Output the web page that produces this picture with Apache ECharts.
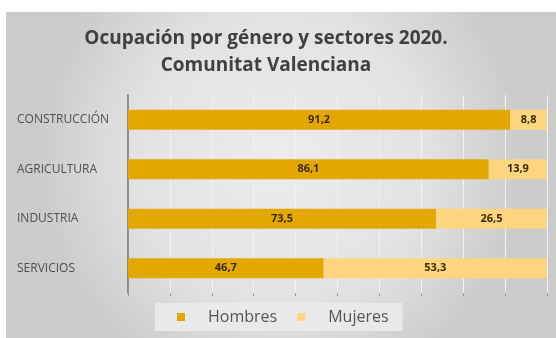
<!DOCTYPE html>
<html>
<head>
<meta charset="utf-8">
<script src="https://cdn.jsdelivr.net/npm/echarts@6/dist/echarts.min.js"></script>
<style>
  html, body { margin: 0; padding: 0; background: #ffffff; }
  #chart { width: 556px; height: 338px; }
</style>
</head>
<body>
<div id="chart"></div>
<script>
// Sector categories (top to bottom)
const sectores = ['CONSTRUCCIÓN', 'AGRICULTURA', 'INDUSTRIA', 'SERVICIOS'];
// Share of employment by gender, %
const hombres = [91.2, 86.1, 73.5, 46.7];
const mujeres = [8.8, 13.9, 26.5, 53.3];
const tituloTexto = 'Ocupación por género y sectores 2020.\nComunitat Valenciana';

const fmt = p => p.value.toFixed(1).replace('.', ',');
const fontFam = '"Open Sans", "Noto Sans", sans-serif';

const chart = echarts.init(document.getElementById('chart'));
chart.setOption({
  backgroundColor: '#ffffff',
  animation: false,
  graphic: [{
    type: 'rect',
    z: -10,
    silent: true,
    shape: { x: 6, y: 12, width: 550, height: 326 },
    style: {
      fill: {
        type: 'radial', x: 0.5, y: 0.45, r: 0.75,
        colorStops: [
          { offset: 0, color: '#ececec' },
          { offset: 0.6, color: '#e2e2e2' },
          { offset: 1, color: '#cbcbcb' }
        ]
      }
    }
  }],
  title: {
    text: tituloTexto,
    left: 261,
    textAlign: 'center',
    top: 20,
    textStyle: {
      fontFamily: fontFam,
      fontSize: 19,
      fontWeight: 'bold',
      color: '#404040',
      lineHeight: 27
    }
  },
  legend: {
    data: ['Hombres', 'Mujeres'],
    left: 155,
    top: 303,
    padding: [6, 14, 6, 22],
    backgroundColor: '#e9e9e9',
    icon: 'rect',
    itemWidth: 8,
    itemHeight: 8,
    itemGap: 20,
    textStyle: {
      fontFamily: fontFam,
      fontSize: 16,
      color: '#555555',
      padding: [0, 0, 0, 18]
    }
  },
  grid: { left: 128, right: 9, top: 95, bottom: 45 },
  xAxis: {
    type: 'value',
    min: 0,
    max: 100,
    interval: 10,
    axisLabel: { show: false },
    axisLine: { show: false },
    axisTick: { show: true, length: 3, lineStyle: { color: '#999999' } },
    splitLine: { show: true, lineStyle: { color: '#f2f2f2', width: 1 } }
  },
  yAxis: {
    type: 'category',
    data: sectores,
    inverse: true,
    axisLine: { show: true, lineStyle: { color: '#6f6f6f', width: 1.5 } },
    axisTick: { show: false },
    axisLabel: {
      align: 'left',
      margin: 111,
      fontFamily: fontFam,
      fontSize: 12,
      color: '#505050'
    }
  },
  series: [
    {
      name: 'Hombres',
      type: 'bar',
      stack: 'total',
      barWidth: 20,
      data: hombres,
      itemStyle: { color: '#e3a800' },
      label: {
        show: true,
        position: 'inside',
        formatter: fmt,
        fontFamily: fontFam,
        fontSize: 11,
        fontWeight: 'bold',
        color: '#3b2a00'
      }
    },
    {
      name: 'Mujeres',
      type: 'bar',
      stack: 'total',
      barWidth: 20,
      data: mujeres,
      itemStyle: { color: '#ffd580' },
      label: {
        show: true,
        position: 'inside',
        formatter: fmt,
        fontFamily: fontFam,
        fontSize: 11,
        fontWeight: 'bold',
        color: '#3b2a00'
      }
    }
  ]
});
</script>
</body>
</html>
